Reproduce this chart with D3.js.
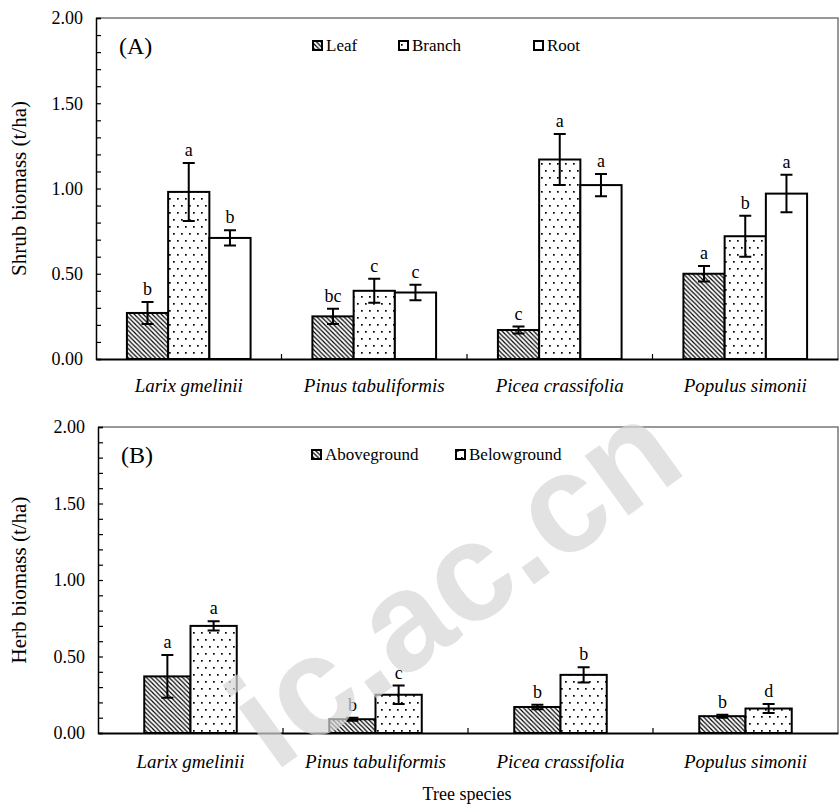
<!DOCTYPE html>
<html>
<head>
<meta charset="utf-8">
<script src="https://cdn.jsdelivr.net/npm/d3@7"></script>
<style>
  body { margin: 0; background: #fff; }
  svg { display: block; font-family: "Liberation Serif", "Times New Roman", serif; }
</style>
</head>
<body>
<div id="chart"></div>
<script>
// tree species on the x axis of both panels
const species = ['Larix gmelinii', 'Pinus tabuliformis', 'Picea crassifolia', 'Populus simonii'];
const yTicks = [0, 0.5, 1.0, 1.5, 2.0];

// panel A: shrub biomass
const shrubSeries = ['Leaf', 'Branch', 'Root'];
const shrubMean = [
  [0.27, 0.98, 0.71],
  [0.25, 0.40, 0.39],
  [0.17, 1.17, 1.02],
  [0.50, 0.72, 0.97]
];
const shrubErr = [
  [0.065, 0.17, 0.045],
  [0.045, 0.07, 0.045],
  [0.02, 0.15, 0.065],
  [0.045, 0.12, 0.11]
];
const shrubLetters = [
  ['b', 'a', 'b'],
  ['bc', 'c', 'c'],
  ['c', 'a', 'a'],
  ['a', 'b', 'a']
];

// panel B: herb biomass
const herbSeries = ['Aboveground', 'Belowground'];
const herbMean = [
  [0.37, 0.70],
  [0.09, 0.25],
  [0.17, 0.38],
  [0.11, 0.16]
];
const herbErr = [
  [0.14, 0.03],
  [0.01, 0.06],
  [0.015, 0.05],
  [0.01, 0.03]
];
const herbLetters = [
  ['a', 'a'],
  ['b', 'c'],
  ['b', 'b'],
  ['b', 'd']
];

const W = 840, H = 805;
const FONT = '"Liberation Serif", "Times New Roman", serif';
const svg = d3.select('#chart').append('svg')
    .attr('width', W)
    .attr('height', H);

// fill patterns
const defs = svg.append('defs');
const hatch = defs.append('pattern')
    .attr('id', 'hatch')
    .attr('patternUnits', 'userSpaceOnUse')
    .attr('width', 4.5).attr('height', 4.5);
hatch.append('rect').attr('width', 4.5).attr('height', 4.5).attr('fill', '#fff');
hatch.append('path')
    .attr('d', 'M-1,-1 L5.5,5.5 M-1,3.5 L1,5.5 M3.5,-1 L5.5,1')
    .attr('stroke', '#000').attr('stroke-width', 1.2);

const dots = defs.append('pattern')
    .attr('id', 'dots')
    .attr('patternUnits', 'userSpaceOnUse')
    .attr('width', 8).attr('height', 14);
dots.append('rect').attr('width', 8).attr('height', 14).attr('fill', '#fff');
dots.append('rect').attr('x', 1).attr('y', 2).attr('width', 1.7).attr('height', 1.7).attr('fill', '#000');
dots.append('rect').attr('x', 5).attr('y', 9).attr('width', 1.7).attr('height', 1.7).attr('fill', '#000');

const fills = ['url(#hatch)', 'url(#dots)', '#fff'];

function drawPanel(opt) {
  const { left, right, top, bottom, series, mean, err, letters, title, tag, gapRatio, legendX, labelPad } = opt;
  const g = svg.append('g');

  const x0 = d3.scaleBand().domain(species).range([left, right]);
  const y = d3.scaleLinear().domain([0, 2]).range([bottom, top]);

  const bw = x0.bandwidth() / (series.length + gapRatio);
  const x1 = d3.scaleBand().domain(series)
      .range([0, bw * series.length]);

  // frame: top and right grey
  g.append('path')
      .attr('d', `M${left},${top} H${right} V${bottom}`)
      .attr('fill', 'none').attr('stroke', '#777').attr('stroke-width', 1.5);

  // bars
  species.forEach((sp, i) => {
    const gx = x0(sp) + (x0.bandwidth() - bw * series.length) / 2;
    series.forEach((s, j) => {
      const v = mean[i][j], e = err[i][j];
      const bx = gx + x1(s);
      g.append('rect')
          .attr('x', bx).attr('y', y(v))
          .attr('width', bw).attr('height', y(0) - y(v))
          .attr('fill', fills[j])
          .attr('stroke', '#000').attr('stroke-width', 2);
      const cx = bx + bw / 2;
      g.append('path')
          .attr('d', `M${cx},${y(v + e)} V${y(v - e)} M${cx - 6},${y(v + e)} H${cx + 6} M${cx - 6},${y(v - e)} H${cx + 6}`)
          .attr('stroke', '#000').attr('stroke-width', 2).attr('fill', 'none');
      g.append('text')
          .attr('x', cx).attr('y', y(v + e) - 7)
          .attr('text-anchor', 'middle')
          .attr('font-size', 18)
          .text(letters[i][j]);
    });
  });

  // y axis
  const yAxis = d3.axisLeft(y)
      .tickValues(d3.range(0, 2.001, 0.1))
      .tickSize(-5)
      .tickFormat(d => yTicks.some(t => Math.abs(t - d) < 1e-6) ? d3.format('.2f')(d) : '');
  const ya = g.append('g')
      .attr('transform', `translate(${left},0)`)
      .call(yAxis)
      .attr('font-family', FONT);
  ya.select('.domain').attr('stroke', '#000').attr('stroke-width', 1.5);
  ya.selectAll('.tick line').attr('stroke-width', 1.2);
  ya.selectAll('.tick text')
      .attr('x', -13)
      .attr('font-size', 18)
      .attr('fill', '#000');

  // x axis with boundary ticks
  const xa = g.append('g')
      .attr('transform', `translate(0,${bottom})`)
      .call(d3.axisBottom(x0).tickSize(0).tickPadding(labelPad))
      .attr('font-family', FONT);
  xa.select('.domain').attr('stroke', '#000').attr('stroke-width', 2);
  xa.selectAll('.tick text')
      .attr('font-style', 'italic')
      .attr('font-size', 19)
      .attr('fill', '#000');
  species.slice(1).forEach(sp => {
    g.append('line')
        .attr('x1', x0(sp)).attr('x2', x0(sp))
        .attr('y1', bottom).attr('y2', bottom - 5)
        .attr('stroke', '#000').attr('stroke-width', 1.2);
  });

  // y title
  g.append('text')
      .attr('transform', `translate(21,${(top + bottom) / 2}) rotate(-90)`)
      .attr('text-anchor', 'middle')
      .attr('dominant-baseline', 'middle')
      .attr('font-size', 21)
      .text(title);

  // panel tag
  g.append('text')
      .attr('x', left + 23).attr('y', top + 36)
      .attr('font-size', 24)
      .text(tag);

  // legend
  series.forEach((s, j) => {
    const lx = legendX[j], ly = top + 28;
    g.append('rect')
        .attr('x', lx).attr('y', ly - 5)
        .attr('width', 9).attr('height', 9)
        .attr('fill', fills[j])
        .attr('stroke', '#000').attr('stroke-width', 2);
    g.append('text')
        .attr('x', lx + 13).attr('y', ly + 5)
        .attr('font-size', 17)
        .text(s);
  });
}

drawPanel({
  left: 96, right: 838, top: 18, bottom: 359,
  series: shrubSeries, mean: shrubMean, err: shrubErr, letters: shrubLetters,
  title: 'Shrub biomass (t/ha)', tag: '(A)', gapRatio: 1.5,
  legendX: [313, 399, 534], labelPad: 20
});

drawPanel({
  left: 98, right: 838, top: 427, bottom: 733,
  series: herbSeries, mean: herbMean, err: herbErr, letters: herbLetters,
  title: 'Herb biomass (t/ha)', tag: '(B)', gapRatio: 2,
  legendX: [312, 456], labelPad: 22
});

svg.append('text')
    .attr('x', 467).attr('y', 800)
    .attr('text-anchor', 'middle')
    .attr('font-size', 18)
    .text('Tree species');

// watermark
svg.append('text')
    .attr('transform', 'translate(482,622) rotate(-36)')
    .attr('text-anchor', 'middle')
    .attr('font-family', '"Liberation Sans", Arial, sans-serif')
    .attr('font-weight', 'bold')
    .attr('font-size', 140)
    .attr('fill', '#d6d6d6')
    .attr('fill-opacity', 0.7)
    .text('ic.ac.cn');
</script>
</body>
</html>
